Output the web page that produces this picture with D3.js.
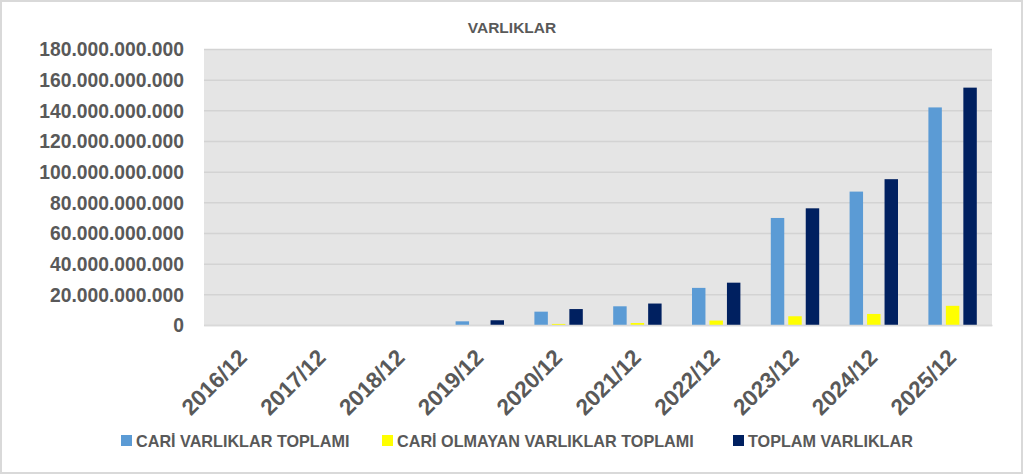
<!DOCTYPE html>
<html>
<head>
<meta charset="utf-8">
<script src="https://cdn.jsdelivr.net/npm/d3@7"></script>
<style>
    body { margin: 0; background: #ffffff; }
    #chart { width: 1024px; height: 476px; }
    text { font-family: "Liberation Sans", Arial, sans-serif; font-weight: bold; fill: #595959; }
</style>
</head>
<body>
<div id="chart"></div>
<script>
// chart data
const periods = ["2016/12", "2017/12", "2018/12", "2019/12", "2020/12", "2021/12", "2022/12", "2023/12", "2024/12", "2025/12"];
const seriesNames = ["CARİ VARLIKLAR TOPLAMI", "CARİ OLMAYAN VARLIKLAR TOPLAMI", "TOPLAM VARLIKLAR"];
const cariVarliklar = [0, 0, 0, 2.4e9, 8.7e9, 12.2e9, 24.2e9, 69.8e9, 87.0e9, 141.9e9];
const cariOlmayan = [0, 0, 0, 0, 0.7e9, 1.3e9, 2.9e9, 5.7e9, 7.2e9, 12.5e9];
const toplamVarliklar = [0, 0, 0, 3.1e9, 10.4e9, 14.0e9, 27.6e9, 76.1e9, 95.1e9, 154.8e9];
const yTicks = [0, 20e9, 40e9, 60e9, 80e9, 100e9, 120e9, 140e9, 160e9, 180e9];

class VarlikVis {

    constructor(parentElement) {
        this.parentElement = parentElement;
        this.keys = seriesNames;
        this.colors = ["#5b9bd5", "#ffff00", "#002060"];
        this.legendX = [0, 261, 612];
        this.data = periods.map((p, i) => ({
            period: p,
            values: [cariVarliklar[i], cariOlmayan[i], toplamVarliklar[i]]
        }));

        this.initVis();
    }

    initVis() {
        let vis = this;

        vis.margin = {top: 49, right: 32, bottom: 151, left: 204};
        vis.width = 1024 - vis.margin.left - vis.margin.right;
        vis.height = 476 - vis.margin.top - vis.margin.bottom;

        vis.root = d3.select("#" + vis.parentElement).append("svg")
            .attr("width", 1024)
            .attr("height", 476);

        // outer chart border
        vis.root.append("rect")
            .attr("x", 1)
            .attr("y", 1)
            .attr("width", 1021)
            .attr("height", 472)
            .attr("fill", "#ffffff")
            .attr("stroke", "#d9d9d9")
            .attr("stroke-width", 2);

        vis.root.append("text")
            .attr("x", 512)
            .attr("y", 33)
            .attr("text-anchor", "middle")
            .style("font-size", "15.5px")
            .text("VARLIKLAR");

        vis.svg = vis.root.append("g")
            .attr("transform", `translate(${vis.margin.left}, ${vis.margin.top})`);

        vis.svg.append("rect")
            .attr("width", vis.width)
            .attr("height", vis.height)
            .attr("fill", "#e5e5e5");

        // Scales
        vis.x0 = d3.scaleBand()
            .domain(periods)
            .range([0, vis.width]);

        vis.x1 = d3.scaleBand()
            .domain(d3.range(vis.keys.length))
            .range([15.2, 63.6])
            .paddingInner(0.23);

        vis.y = d3.scaleLinear()
            .domain([0, 180e9])
            .range([vis.height, 0]);

        let locale = d3.formatLocale({decimal: ",", thousands: ".", grouping: [3], currency: ["", ""]});
        vis.fmt = locale.format(",.0f");

        // gridlines
        vis.svg.append("g")
            .attr("class", "grid")
            .call(d3.axisLeft(vis.y).tickValues(yTicks).tickSize(-vis.width).tickFormat(""))
            .call(g => g.select(".domain").remove())
            .call(g => g.selectAll("line").attr("stroke", "#d3d3d3").attr("stroke-width", 1.5));

        // y axis labels
        vis.svg.append("g")
            .attr("class", "y-axis")
            .attr("transform", "translate(-20, 0)")
            .call(d3.axisLeft(vis.y).tickValues(yTicks).tickSize(0).tickPadding(0).tickFormat(vis.fmt))
            .call(g => g.select(".domain").remove())
            .call(g => g.selectAll("text")
                .attr("fill", "#595959")
                .attr("dy", "0.36em")
                .style("font-size", "19.3px")
                .style("font-family", "\"Liberation Sans\", Arial, sans-serif"));

        // bars
        vis.groups = vis.svg.selectAll(".period")
            .data(vis.data)
            .enter()
            .append("g")
            .attr("class", "period")
            .attr("transform", d => `translate(${vis.x0(d.period)}, 0)`);

        vis.groups.selectAll("rect")
            .data(d => d.values)
            .enter()
            .append("rect")
            .attr("x", (d, i) => vis.x1(i))
            .attr("width", vis.x1.bandwidth())
            .attr("y", d => vis.y(d))
            .attr("height", d => vis.height - vis.y(d))
            .attr("fill", (d, i) => vis.colors[i]);

        // x axis
        vis.svg.append("g")
            .attr("class", "x-axis")
            .attr("transform", `translate(0, ${vis.height})`)
            .call(d3.axisBottom(vis.x0).tickSize(0).tickFormat(d => d))
            .call(g => g.select(".domain").attr("stroke", "#d9d9d9").attr("stroke-width", 1.5))
            .call(g => g.selectAll("text")
                .attr("fill", "#595959")
                .attr("text-anchor", "end")
                .attr("transform", "translate(5, 34) rotate(-45)")
                .attr("y", 0)
                .attr("dy", 0)
                .style("font-size", "22.5px")
                .style("font-family", "\"Liberation Sans\", Arial, sans-serif"));

        // legend
        vis.legend = vis.root.append("g")
            .attr("transform", "translate(121, 435)");

        vis.keys.forEach((k, i) => {
            let item = vis.legend.append("g").attr("transform", `translate(${vis.legendX[i]}, 0)`);
            item.append("rect")
                .attr("width", 11)
                .attr("height", 11)
                .attr("fill", vis.colors[i]);
            item.append("text")
                .attr("x", 15)
                .attr("y", 11.5)
                .style("font-size", "16.2px")
                .text(k);
        });
    }
}

new VarlikVis("chart");
</script>
</body>
</html>
